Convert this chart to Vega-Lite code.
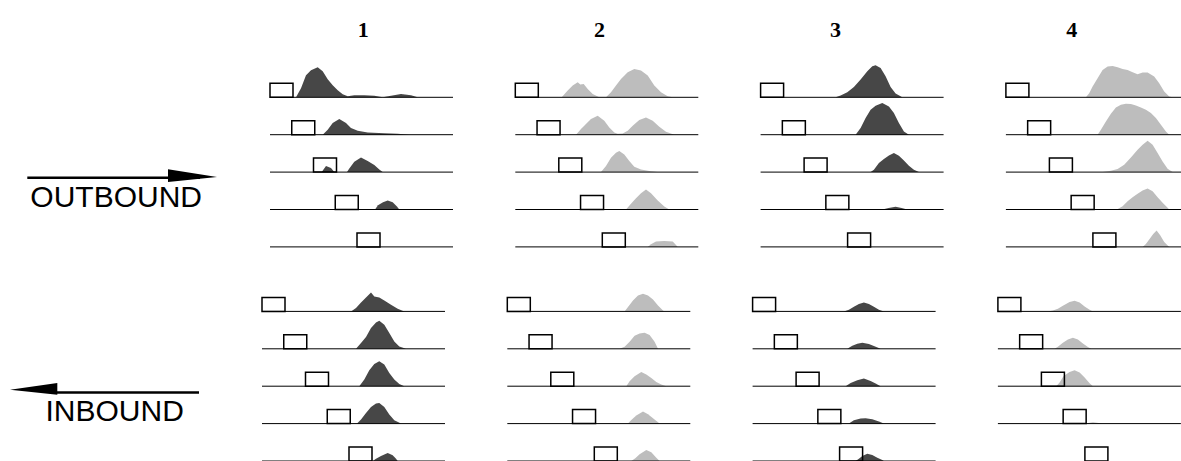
{
"$schema": "https://vega.github.io/schema/vega-lite/v6.json",
"padding": {"top": 18, "left": 0, "right": 0, "bottom": 0},
"background": "white",
"config": {"view": {"stroke": null}},
"datasets": {
"out": [
{"kind":"base","arm":1,"trial":1,"x":0,"x2":183},{"kind":"base","arm":1,"trial":2,"x":0,"x2":183},{"kind":"base","arm":1,"trial":3,"x":0,"x2":183},{"kind":"base","arm":1,"trial":4,"x":0,"x2":183},{"kind":"base","arm":1,"trial":5,"x":0,"x2":183},
{"kind":"base","arm":2,"trial":1,"x":0,"x2":183},{"kind":"base","arm":2,"trial":2,"x":0,"x2":183},{"kind":"base","arm":2,"trial":3,"x":0,"x2":183},{"kind":"base","arm":2,"trial":4,"x":0,"x2":183},{"kind":"base","arm":2,"trial":5,"x":0,"x2":183},
{"kind":"base","arm":3,"trial":1,"x":0,"x2":183},{"kind":"base","arm":3,"trial":2,"x":0,"x2":183},{"kind":"base","arm":3,"trial":3,"x":0,"x2":183},{"kind":"base","arm":3,"trial":4,"x":0,"x2":183},{"kind":"base","arm":3,"trial":5,"x":0,"x2":183},
{"kind":"base","arm":4,"trial":1,"x":0,"x2":183},{"kind":"base","arm":4,"trial":2,"x":0,"x2":183},{"kind":"base","arm":4,"trial":3,"x":0,"x2":183},{"kind":"base","arm":4,"trial":4,"x":0,"x2":183},{"kind":"base","arm":4,"trial":5,"x":0,"x2":183},
{"kind":"box","arm":1,"trial":1,"x":0,"x2":23},{"kind":"box","arm":1,"trial":2,"x":21.75,"x2":44.75},{"kind":"box","arm":1,"trial":3,"x":43.5,"x2":66.5},{"kind":"box","arm":1,"trial":4,"x":65.25,"x2":88.25},{"kind":"box","arm":1,"trial":5,"x":87,"x2":110},
{"kind":"box","arm":2,"trial":1,"x":0,"x2":23},{"kind":"box","arm":2,"trial":2,"x":21.75,"x2":44.75},{"kind":"box","arm":2,"trial":3,"x":43.5,"x2":66.5},{"kind":"box","arm":2,"trial":4,"x":65.25,"x2":88.25},{"kind":"box","arm":2,"trial":5,"x":87,"x2":110},
{"kind":"box","arm":3,"trial":1,"x":0,"x2":23},{"kind":"box","arm":3,"trial":2,"x":21.75,"x2":44.75},{"kind":"box","arm":3,"trial":3,"x":43.5,"x2":66.5},{"kind":"box","arm":3,"trial":4,"x":65.25,"x2":88.25},{"kind":"box","arm":3,"trial":5,"x":87,"x2":110},
{"kind":"box","arm":4,"trial":1,"x":0,"x2":23},{"kind":"box","arm":4,"trial":2,"x":21.75,"x2":44.75},{"kind":"box","arm":4,"trial":3,"x":43.5,"x2":66.5},{"kind":"box","arm":4,"trial":4,"x":65.25,"x2":88.25},{"kind":"box","arm":4,"trial":5,"x":87,"x2":110},
{"kind":"density","arm":1,"trial":1,"x":26,"d":0},{"kind":"density","arm":1,"trial":1,"x":31,"d":9},{"kind":"density","arm":1,"trial":1,"x":36,"d":22},{"kind":"density","arm":1,"trial":1,"x":41,"d":27},{"kind":"density","arm":1,"trial":1,"x":47.7,"d":30},{"kind":"density","arm":1,"trial":1,"x":52.7,"d":26},{"kind":"density","arm":1,"trial":1,"x":57.7,"d":18},{"kind":"density","arm":1,"trial":1,"x":62.7,"d":12},{"kind":"density","arm":1,"trial":1,"x":67.7,"d":7},{"kind":"density","arm":1,"trial":1,"x":72.7,"d":3},{"kind":"density","arm":1,"trial":1,"x":77.7,"d":1},{"kind":"density","arm":1,"trial":1,"x":84.3,"d":2},{"kind":"density","arm":1,"trial":1,"x":94.3,"d":2},{"kind":"density","arm":1,"trial":1,"x":104.3,"d":1.5},{"kind":"density","arm":1,"trial":1,"x":112.7,"d":0},{"kind":"density","arm":1,"trial":1,"x":121,"d":1.5},{"kind":"density","arm":1,"trial":1,"x":131,"d":3.3},{"kind":"density","arm":1,"trial":1,"x":141,"d":2},{"kind":"density","arm":1,"trial":1,"x":147.7,"d":0},
{"kind":"density","arm":1,"trial":2,"x":52.7,"d":0},{"kind":"density","arm":1,"trial":2,"x":57.7,"d":5},{"kind":"density","arm":1,"trial":2,"x":62.7,"d":11.7},{"kind":"density","arm":1,"trial":2,"x":69.3,"d":15.7},{"kind":"density","arm":1,"trial":2,"x":76,"d":11.7},{"kind":"density","arm":1,"trial":2,"x":81,"d":6.7},{"kind":"density","arm":1,"trial":2,"x":87.7,"d":4},{"kind":"density","arm":1,"trial":2,"x":97.7,"d":2.3},{"kind":"density","arm":1,"trial":2,"x":114.3,"d":1.5},{"kind":"density","arm":1,"trial":2,"x":127.7,"d":1},{"kind":"density","arm":1,"trial":2,"x":139.3,"d":0},
{"kind":"density","arm":1,"trial":3,"x":51.7,"d":0},{"kind":"density","arm":1,"trial":3,"x":56,"d":6},{"kind":"density","arm":1,"trial":3,"x":61,"d":4},{"kind":"density","arm":1,"trial":3,"x":64.3,"d":0},{"kind":"density","arm":1,"trial":3,"x":77,"d":0},{"kind":"density","arm":1,"trial":3,"x":79.3,"d":3.7},{"kind":"density","arm":1,"trial":3,"x":84.3,"d":10.3},{"kind":"density","arm":1,"trial":3,"x":91,"d":14.7},{"kind":"density","arm":1,"trial":3,"x":97.7,"d":11},{"kind":"density","arm":1,"trial":3,"x":104.3,"d":7},{"kind":"density","arm":1,"trial":3,"x":109.3,"d":2.7},{"kind":"density","arm":1,"trial":3,"x":112.7,"d":0},
{"kind":"density","arm":1,"trial":4,"x":105,"d":0},{"kind":"density","arm":1,"trial":4,"x":108,"d":4.3},{"kind":"density","arm":1,"trial":4,"x":113,"d":7.3},{"kind":"density","arm":1,"trial":4,"x":117.7,"d":9},{"kind":"density","arm":1,"trial":4,"x":122.7,"d":7.3},{"kind":"density","arm":1,"trial":4,"x":126.7,"d":3.3},{"kind":"density","arm":1,"trial":4,"x":129.3,"d":0},
{"kind":"density","arm":2,"trial":1,"x":46.4,"d":0},{"kind":"density","arm":2,"trial":1,"x":52.4,"d":6.7},{"kind":"density","arm":2,"trial":1,"x":57.4,"d":11.7},{"kind":"density","arm":2,"trial":1,"x":62.4,"d":15},{"kind":"density","arm":2,"trial":1,"x":65,"d":12.7},{"kind":"density","arm":2,"trial":1,"x":68.4,"d":13.3},{"kind":"density","arm":2,"trial":1,"x":72.4,"d":8.3},{"kind":"density","arm":2,"trial":1,"x":77.4,"d":3.3},{"kind":"density","arm":2,"trial":1,"x":84,"d":0},{"kind":"density","arm":2,"trial":1,"x":90.7,"d":0},{"kind":"density","arm":2,"trial":1,"x":95.7,"d":5},{"kind":"density","arm":2,"trial":1,"x":100.7,"d":11.7},{"kind":"density","arm":2,"trial":1,"x":105.7,"d":18.3},{"kind":"density","arm":2,"trial":1,"x":112.4,"d":25},{"kind":"density","arm":2,"trial":1,"x":119,"d":28.3},{"kind":"density","arm":2,"trial":1,"x":125.7,"d":26.7},{"kind":"density","arm":2,"trial":1,"x":132.4,"d":21.7},{"kind":"density","arm":2,"trial":1,"x":139,"d":11.7},{"kind":"density","arm":2,"trial":1,"x":145.7,"d":5},{"kind":"density","arm":2,"trial":1,"x":152.4,"d":1},{"kind":"density","arm":2,"trial":1,"x":157.4,"d":0},
{"kind":"density","arm":2,"trial":2,"x":60.7,"d":0},{"kind":"density","arm":2,"trial":2,"x":65.7,"d":5.7},{"kind":"density","arm":2,"trial":2,"x":70.7,"d":10.7},{"kind":"density","arm":2,"trial":2,"x":75.7,"d":15.7},{"kind":"density","arm":2,"trial":2,"x":82.4,"d":19},{"kind":"density","arm":2,"trial":2,"x":89,"d":14},{"kind":"density","arm":2,"trial":2,"x":94,"d":7.3},{"kind":"density","arm":2,"trial":2,"x":99,"d":2.3},{"kind":"density","arm":2,"trial":2,"x":102.4,"d":1},{"kind":"density","arm":2,"trial":2,"x":107.4,"d":1.3},{"kind":"density","arm":2,"trial":2,"x":112.4,"d":4},{"kind":"density","arm":2,"trial":2,"x":117.4,"d":9},{"kind":"density","arm":2,"trial":2,"x":124,"d":14.7},{"kind":"density","arm":2,"trial":2,"x":130.7,"d":17.3},{"kind":"density","arm":2,"trial":2,"x":137.4,"d":14},{"kind":"density","arm":2,"trial":2,"x":144,"d":8},{"kind":"density","arm":2,"trial":2,"x":150.7,"d":3},{"kind":"density","arm":2,"trial":2,"x":159,"d":0},
{"kind":"density","arm":2,"trial":3,"x":85.7,"d":0},{"kind":"density","arm":2,"trial":3,"x":90.7,"d":6},{"kind":"density","arm":2,"trial":3,"x":95.7,"d":14.3},{"kind":"density","arm":2,"trial":3,"x":100.7,"d":19.3},{"kind":"density","arm":2,"trial":3,"x":104,"d":21},{"kind":"density","arm":2,"trial":3,"x":109,"d":17.7},{"kind":"density","arm":2,"trial":3,"x":114,"d":11},{"kind":"density","arm":2,"trial":3,"x":119,"d":5.3},{"kind":"density","arm":2,"trial":3,"x":125.7,"d":2.7},{"kind":"density","arm":2,"trial":3,"x":134,"d":1},{"kind":"density","arm":2,"trial":3,"x":142.4,"d":0},
{"kind":"density","arm":2,"trial":4,"x":110.7,"d":0},{"kind":"density","arm":2,"trial":4,"x":115.7,"d":5.7},{"kind":"density","arm":2,"trial":4,"x":120.7,"d":11.3},{"kind":"density","arm":2,"trial":4,"x":125.7,"d":16.3},{"kind":"density","arm":2,"trial":4,"x":130.7,"d":20},{"kind":"density","arm":2,"trial":4,"x":135.7,"d":16.3},{"kind":"density","arm":2,"trial":4,"x":142.4,"d":9},{"kind":"density","arm":2,"trial":4,"x":149,"d":3},{"kind":"density","arm":2,"trial":4,"x":154,"d":0},
{"kind":"density","arm":2,"trial":5,"x":132.4,"d":0},{"kind":"density","arm":2,"trial":5,"x":135.7,"d":2.7},{"kind":"density","arm":2,"trial":5,"x":140.7,"d":5.3},{"kind":"density","arm":2,"trial":5,"x":149,"d":6},{"kind":"density","arm":2,"trial":5,"x":157.4,"d":5.3},{"kind":"density","arm":2,"trial":5,"x":160.7,"d":2},{"kind":"density","arm":2,"trial":5,"x":162.4,"d":0},
{"kind":"density","arm":3,"trial":1,"x":75,"d":0},{"kind":"density","arm":3,"trial":1,"x":80,"d":1.7},{"kind":"density","arm":3,"trial":1,"x":86.7,"d":5},{"kind":"density","arm":3,"trial":1,"x":93.3,"d":10.3},{"kind":"density","arm":3,"trial":1,"x":100,"d":17.7},{"kind":"density","arm":3,"trial":1,"x":106.7,"d":26},{"kind":"density","arm":3,"trial":1,"x":111.7,"d":31},{"kind":"density","arm":3,"trial":1,"x":115,"d":32},{"kind":"density","arm":3,"trial":1,"x":120,"d":29.3},{"kind":"density","arm":3,"trial":1,"x":125,"d":21},{"kind":"density","arm":3,"trial":1,"x":130,"d":10.3},{"kind":"density","arm":3,"trial":1,"x":135,"d":3.7},{"kind":"density","arm":3,"trial":1,"x":141.7,"d":0},
{"kind":"density","arm":3,"trial":2,"x":95,"d":0},{"kind":"density","arm":3,"trial":2,"x":100,"d":6.7},{"kind":"density","arm":3,"trial":2,"x":105,"d":16.7},{"kind":"density","arm":3,"trial":2,"x":110,"d":25},{"kind":"density","arm":3,"trial":2,"x":115,"d":29},{"kind":"density","arm":3,"trial":2,"x":121.7,"d":31.7},{"kind":"density","arm":3,"trial":2,"x":128.3,"d":28.3},{"kind":"density","arm":3,"trial":2,"x":133.3,"d":21.7},{"kind":"density","arm":3,"trial":2,"x":138.3,"d":11.7},{"kind":"density","arm":3,"trial":2,"x":143.3,"d":3.3},{"kind":"density","arm":3,"trial":2,"x":148.3,"d":0},
{"kind":"density","arm":3,"trial":3,"x":110,"d":0},{"kind":"density","arm":3,"trial":3,"x":113.3,"d":2.3},{"kind":"density","arm":3,"trial":3,"x":118.3,"d":9},{"kind":"density","arm":3,"trial":3,"x":123.3,"d":13},{"kind":"density","arm":3,"trial":3,"x":128.3,"d":16.7},{"kind":"density","arm":3,"trial":3,"x":133.3,"d":19},{"kind":"density","arm":3,"trial":3,"x":138.3,"d":16.3},{"kind":"density","arm":3,"trial":3,"x":143.3,"d":11.7},{"kind":"density","arm":3,"trial":3,"x":148.3,"d":6.3},{"kind":"density","arm":3,"trial":3,"x":153.3,"d":2.3},{"kind":"density","arm":3,"trial":3,"x":158.3,"d":0},
{"kind":"density","arm":3,"trial":4,"x":121.7,"d":0},{"kind":"density","arm":3,"trial":4,"x":128,"d":1.5},{"kind":"density","arm":3,"trial":4,"x":135,"d":2.7},{"kind":"density","arm":3,"trial":4,"x":141,"d":1.5},{"kind":"density","arm":3,"trial":4,"x":146.7,"d":0},
{"kind":"density","arm":4,"trial":1,"x":80,"d":0},{"kind":"density","arm":4,"trial":1,"x":83.3,"d":4},{"kind":"density","arm":4,"trial":1,"x":86.7,"d":10.7},{"kind":"density","arm":4,"trial":1,"x":91.7,"d":19},{"kind":"density","arm":4,"trial":1,"x":96.7,"d":27.3},{"kind":"density","arm":4,"trial":1,"x":101.7,"d":30.7},{"kind":"density","arm":4,"trial":1,"x":106.7,"d":31.3},{"kind":"density","arm":4,"trial":1,"x":111.7,"d":30},{"kind":"density","arm":4,"trial":1,"x":116.7,"d":28.3},{"kind":"density","arm":4,"trial":1,"x":121.7,"d":27.3},{"kind":"density","arm":4,"trial":1,"x":126.7,"d":25},{"kind":"density","arm":4,"trial":1,"x":131.7,"d":23},{"kind":"density","arm":4,"trial":1,"x":136.7,"d":24.7},{"kind":"density","arm":4,"trial":1,"x":141.7,"d":24.7},{"kind":"density","arm":4,"trial":1,"x":148.3,"d":20.7},{"kind":"density","arm":4,"trial":1,"x":153.3,"d":14},{"kind":"density","arm":4,"trial":1,"x":158.3,"d":5.7},{"kind":"density","arm":4,"trial":1,"x":163.3,"d":0.7},{"kind":"density","arm":4,"trial":1,"x":166.7,"d":0},
{"kind":"density","arm":4,"trial":2,"x":91.7,"d":0},{"kind":"density","arm":4,"trial":2,"x":95,"d":5},{"kind":"density","arm":4,"trial":2,"x":100,"d":13.3},{"kind":"density","arm":4,"trial":2,"x":105,"d":21},{"kind":"density","arm":4,"trial":2,"x":110,"d":27.3},{"kind":"density","arm":4,"trial":2,"x":115,"d":30},{"kind":"density","arm":4,"trial":2,"x":120,"d":31},{"kind":"density","arm":4,"trial":2,"x":125,"d":30.7},{"kind":"density","arm":4,"trial":2,"x":130,"d":29.3},{"kind":"density","arm":4,"trial":2,"x":135,"d":27.3},{"kind":"density","arm":4,"trial":2,"x":140,"d":25},{"kind":"density","arm":4,"trial":2,"x":145,"d":21.7},{"kind":"density","arm":4,"trial":2,"x":150,"d":16.7},{"kind":"density","arm":4,"trial":2,"x":155,"d":10},{"kind":"density","arm":4,"trial":2,"x":160,"d":3.3},{"kind":"density","arm":4,"trial":2,"x":163.3,"d":0},
{"kind":"density","arm":4,"trial":3,"x":96.7,"d":0},{"kind":"density","arm":4,"trial":3,"x":105,"d":1.3},{"kind":"density","arm":4,"trial":3,"x":111.7,"d":3},{"kind":"density","arm":4,"trial":3,"x":118.3,"d":7.3},{"kind":"density","arm":4,"trial":3,"x":125,"d":14.7},{"kind":"density","arm":4,"trial":3,"x":131.7,"d":22.3},{"kind":"density","arm":4,"trial":3,"x":136.7,"d":27.3},{"kind":"density","arm":4,"trial":3,"x":141.7,"d":31.3},{"kind":"density","arm":4,"trial":3,"x":146.7,"d":27.3},{"kind":"density","arm":4,"trial":3,"x":151.7,"d":19},{"kind":"density","arm":4,"trial":3,"x":156.7,"d":10.7},{"kind":"density","arm":4,"trial":3,"x":161.7,"d":3.3},{"kind":"density","arm":4,"trial":3,"x":166.7,"d":0},
{"kind":"density","arm":4,"trial":4,"x":111,"d":0},{"kind":"density","arm":4,"trial":4,"x":116.7,"d":3.3},{"kind":"density","arm":4,"trial":4,"x":121.7,"d":8.3},{"kind":"density","arm":4,"trial":4,"x":126.7,"d":12.3},{"kind":"density","arm":4,"trial":4,"x":131.7,"d":15.7},{"kind":"density","arm":4,"trial":4,"x":136.7,"d":19},{"kind":"density","arm":4,"trial":4,"x":141.7,"d":21},{"kind":"density","arm":4,"trial":4,"x":146.7,"d":18.3},{"kind":"density","arm":4,"trial":4,"x":151.7,"d":12.3},{"kind":"density","arm":4,"trial":4,"x":156.7,"d":6.7},{"kind":"density","arm":4,"trial":4,"x":161.7,"d":1.7},{"kind":"density","arm":4,"trial":4,"x":163.3,"d":0},
{"kind":"density","arm":4,"trial":5,"x":136.7,"d":0},{"kind":"density","arm":4,"trial":5,"x":140,"d":3},{"kind":"density","arm":4,"trial":5,"x":143.3,"d":7.3},{"kind":"density","arm":4,"trial":5,"x":147.3,"d":13},{"kind":"density","arm":4,"trial":5,"x":150.7,"d":16.3},{"kind":"density","arm":4,"trial":5,"x":154.3,"d":11.7},{"kind":"density","arm":4,"trial":5,"x":158.3,"d":5},{"kind":"density","arm":4,"trial":5,"x":163.3,"d":0}
],
"in": [
{"kind":"base","arm":1,"trial":1,"x":0,"x2":183},{"kind":"base","arm":1,"trial":2,"x":0,"x2":183},{"kind":"base","arm":1,"trial":3,"x":0,"x2":183},{"kind":"base","arm":1,"trial":4,"x":0,"x2":183},{"kind":"base","arm":1,"trial":5,"x":0,"x2":183},
{"kind":"base","arm":2,"trial":1,"x":0,"x2":183},{"kind":"base","arm":2,"trial":2,"x":0,"x2":183},{"kind":"base","arm":2,"trial":3,"x":0,"x2":183},{"kind":"base","arm":2,"trial":4,"x":0,"x2":183},{"kind":"base","arm":2,"trial":5,"x":0,"x2":183},
{"kind":"base","arm":3,"trial":1,"x":0,"x2":183},{"kind":"base","arm":3,"trial":2,"x":0,"x2":183},{"kind":"base","arm":3,"trial":3,"x":0,"x2":183},{"kind":"base","arm":3,"trial":4,"x":0,"x2":183},{"kind":"base","arm":3,"trial":5,"x":0,"x2":183},
{"kind":"base","arm":4,"trial":1,"x":0,"x2":183},{"kind":"base","arm":4,"trial":2,"x":0,"x2":183},{"kind":"base","arm":4,"trial":3,"x":0,"x2":183},{"kind":"base","arm":4,"trial":4,"x":0,"x2":183},
{"kind":"box","arm":1,"trial":1,"x":0,"x2":23},{"kind":"box","arm":1,"trial":2,"x":21.75,"x2":44.75},{"kind":"box","arm":1,"trial":3,"x":43.5,"x2":66.5},{"kind":"box","arm":1,"trial":4,"x":65.25,"x2":88.25},{"kind":"box","arm":1,"trial":5,"x":87,"x2":110},
{"kind":"box","arm":2,"trial":1,"x":0,"x2":23},{"kind":"box","arm":2,"trial":2,"x":21.75,"x2":44.75},{"kind":"box","arm":2,"trial":3,"x":43.5,"x2":66.5},{"kind":"box","arm":2,"trial":4,"x":65.25,"x2":88.25},{"kind":"box","arm":2,"trial":5,"x":87,"x2":110},
{"kind":"box","arm":3,"trial":1,"x":0,"x2":23},{"kind":"box","arm":3,"trial":2,"x":21.75,"x2":44.75},{"kind":"box","arm":3,"trial":3,"x":43.5,"x2":66.5},{"kind":"box","arm":3,"trial":4,"x":65.25,"x2":88.25},{"kind":"box","arm":3,"trial":5,"x":87,"x2":110},
{"kind":"box","arm":4,"trial":1,"x":0,"x2":23},{"kind":"box","arm":4,"trial":2,"x":21.75,"x2":44.75},{"kind":"box","arm":4,"trial":3,"x":43.5,"x2":66.5},{"kind":"box","arm":4,"trial":4,"x":65.25,"x2":88.25},{"kind":"box","arm":4,"trial":5,"x":87,"x2":110},
{"kind":"density","arm":1,"trial":1,"x":89,"d":0},{"kind":"density","arm":1,"trial":1,"x":94,"d":3.3},{"kind":"density","arm":1,"trial":1,"x":99,"d":9},{"kind":"density","arm":1,"trial":1,"x":104,"d":14},{"kind":"density","arm":1,"trial":1,"x":109,"d":19},{"kind":"density","arm":1,"trial":1,"x":112.3,"d":15},{"kind":"density","arm":1,"trial":1,"x":117.3,"d":14},{"kind":"density","arm":1,"trial":1,"x":122.3,"d":11},{"kind":"density","arm":1,"trial":1,"x":129,"d":6.7},{"kind":"density","arm":1,"trial":1,"x":135.7,"d":2.7},{"kind":"density","arm":1,"trial":1,"x":142.3,"d":0},
{"kind":"density","arm":1,"trial":2,"x":94,"d":0},{"kind":"density","arm":1,"trial":2,"x":99,"d":5.7},{"kind":"density","arm":1,"trial":2,"x":104,"d":11.7},{"kind":"density","arm":1,"trial":2,"x":109,"d":20.7},{"kind":"density","arm":1,"trial":2,"x":114,"d":26.3},{"kind":"density","arm":1,"trial":2,"x":117.3,"d":28},{"kind":"density","arm":1,"trial":2,"x":122.3,"d":24},{"kind":"density","arm":1,"trial":2,"x":127.3,"d":15.7},{"kind":"density","arm":1,"trial":2,"x":132.3,"d":7.3},{"kind":"density","arm":1,"trial":2,"x":137.3,"d":2.3},{"kind":"density","arm":1,"trial":2,"x":144,"d":0},
{"kind":"density","arm":1,"trial":3,"x":97.3,"d":0},{"kind":"density","arm":1,"trial":3,"x":102.3,"d":6.7},{"kind":"density","arm":1,"trial":3,"x":107.3,"d":16},{"kind":"density","arm":1,"trial":3,"x":112.3,"d":22.3},{"kind":"density","arm":1,"trial":3,"x":117.3,"d":25},{"kind":"density","arm":1,"trial":3,"x":122.3,"d":21.7},{"kind":"density","arm":1,"trial":3,"x":127.3,"d":13.3},{"kind":"density","arm":1,"trial":3,"x":132.3,"d":6.7},{"kind":"density","arm":1,"trial":3,"x":137.3,"d":2.3},{"kind":"density","arm":1,"trial":3,"x":142.3,"d":0},
{"kind":"density","arm":1,"trial":4,"x":95,"d":0},{"kind":"density","arm":1,"trial":4,"x":99,"d":4},{"kind":"density","arm":1,"trial":4,"x":104,"d":10.7},{"kind":"density","arm":1,"trial":4,"x":109,"d":16.7},{"kind":"density","arm":1,"trial":4,"x":114,"d":20},{"kind":"density","arm":1,"trial":4,"x":117.3,"d":20.7},{"kind":"density","arm":1,"trial":4,"x":122.3,"d":16.7},{"kind":"density","arm":1,"trial":4,"x":127.3,"d":9},{"kind":"density","arm":1,"trial":4,"x":132.3,"d":3.3},{"kind":"density","arm":1,"trial":4,"x":139,"d":0},
{"kind":"density","arm":1,"trial":5,"x":110.7,"d":0},{"kind":"density","arm":1,"trial":5,"x":114,"d":2.3},{"kind":"density","arm":1,"trial":5,"x":119,"d":5},{"kind":"density","arm":1,"trial":5,"x":125.7,"d":8},{"kind":"density","arm":1,"trial":5,"x":130.7,"d":5.7},{"kind":"density","arm":1,"trial":5,"x":134,"d":2.3},{"kind":"density","arm":1,"trial":5,"x":135.7,"d":0},
{"kind":"density","arm":2,"trial":1,"x":117.3,"d":0},{"kind":"density","arm":2,"trial":1,"x":120.7,"d":4.3},{"kind":"density","arm":2,"trial":1,"x":125.7,"d":11},{"kind":"density","arm":2,"trial":1,"x":130.7,"d":16},{"kind":"density","arm":2,"trial":1,"x":135.7,"d":17.7},{"kind":"density","arm":2,"trial":1,"x":140.7,"d":16},{"kind":"density","arm":2,"trial":1,"x":145.7,"d":12},{"kind":"density","arm":2,"trial":1,"x":150.7,"d":6},{"kind":"density","arm":2,"trial":1,"x":155.7,"d":1},{"kind":"density","arm":2,"trial":1,"x":157.3,"d":0},
{"kind":"density","arm":2,"trial":2,"x":112.3,"d":0},{"kind":"density","arm":2,"trial":2,"x":117.3,"d":2},{"kind":"density","arm":2,"trial":2,"x":122.3,"d":7},{"kind":"density","arm":2,"trial":2,"x":127.3,"d":13},{"kind":"density","arm":2,"trial":2,"x":132.3,"d":15.3},{"kind":"density","arm":2,"trial":2,"x":137.3,"d":16},{"kind":"density","arm":2,"trial":2,"x":142.3,"d":13.7},{"kind":"density","arm":2,"trial":2,"x":147.3,"d":7},{"kind":"density","arm":2,"trial":2,"x":150.7,"d":0},
{"kind":"density","arm":2,"trial":3,"x":119,"d":0},{"kind":"density","arm":2,"trial":3,"x":122.3,"d":5},{"kind":"density","arm":2,"trial":3,"x":127.3,"d":10},{"kind":"density","arm":2,"trial":3,"x":134,"d":14.3},{"kind":"density","arm":2,"trial":3,"x":139,"d":11.7},{"kind":"density","arm":2,"trial":3,"x":144,"d":8.3},{"kind":"density","arm":2,"trial":3,"x":149,"d":4.3},{"kind":"density","arm":2,"trial":3,"x":154,"d":1.7},{"kind":"density","arm":2,"trial":3,"x":159,"d":0},
{"kind":"density","arm":2,"trial":4,"x":120.7,"d":0},{"kind":"density","arm":2,"trial":4,"x":124,"d":3.7},{"kind":"density","arm":2,"trial":4,"x":129,"d":8},{"kind":"density","arm":2,"trial":4,"x":135.7,"d":12},{"kind":"density","arm":2,"trial":4,"x":140.7,"d":9.3},{"kind":"density","arm":2,"trial":4,"x":145.7,"d":5.3},{"kind":"density","arm":2,"trial":4,"x":150.7,"d":1.3},{"kind":"density","arm":2,"trial":4,"x":152.3,"d":0},
{"kind":"density","arm":2,"trial":5,"x":124,"d":0},{"kind":"density","arm":2,"trial":5,"x":128,"d":2.7},{"kind":"density","arm":2,"trial":5,"x":132.3,"d":6.7},{"kind":"density","arm":2,"trial":5,"x":139,"d":11},{"kind":"density","arm":2,"trial":5,"x":144,"d":8.7},{"kind":"density","arm":2,"trial":5,"x":149,"d":3.3},{"kind":"density","arm":2,"trial":5,"x":152.3,"d":0},
{"kind":"density","arm":3,"trial":1,"x":91.3,"d":0},{"kind":"density","arm":3,"trial":1,"x":96.3,"d":1.7},{"kind":"density","arm":3,"trial":1,"x":101.3,"d":4.7},{"kind":"density","arm":3,"trial":1,"x":106.3,"d":7.3},{"kind":"density","arm":3,"trial":1,"x":111.3,"d":9},{"kind":"density","arm":3,"trial":1,"x":116.3,"d":7.3},{"kind":"density","arm":3,"trial":1,"x":121.3,"d":4.7},{"kind":"density","arm":3,"trial":1,"x":126.3,"d":1.7},{"kind":"density","arm":3,"trial":1,"x":131.3,"d":0},
{"kind":"density","arm":3,"trial":2,"x":94.7,"d":0},{"kind":"density","arm":3,"trial":2,"x":99.7,"d":3},{"kind":"density","arm":3,"trial":2,"x":104.7,"d":5},{"kind":"density","arm":3,"trial":2,"x":109.7,"d":6},{"kind":"density","arm":3,"trial":2,"x":116.3,"d":4.7},{"kind":"density","arm":3,"trial":2,"x":121.3,"d":2.7},{"kind":"density","arm":3,"trial":2,"x":128,"d":0},
{"kind":"density","arm":3,"trial":3,"x":93,"d":0},{"kind":"density","arm":3,"trial":3,"x":98,"d":3.3},{"kind":"density","arm":3,"trial":3,"x":104.7,"d":6},{"kind":"density","arm":3,"trial":3,"x":111.3,"d":7.7},{"kind":"density","arm":3,"trial":3,"x":118,"d":5.3},{"kind":"density","arm":3,"trial":3,"x":123,"d":2.7},{"kind":"density","arm":3,"trial":3,"x":128,"d":0},
{"kind":"density","arm":3,"trial":4,"x":96.3,"d":0},{"kind":"density","arm":3,"trial":4,"x":101.3,"d":3.3},{"kind":"density","arm":3,"trial":4,"x":108,"d":5},{"kind":"density","arm":3,"trial":4,"x":113,"d":5.3},{"kind":"density","arm":3,"trial":4,"x":119.7,"d":4.3},{"kind":"density","arm":3,"trial":4,"x":126.3,"d":2},{"kind":"density","arm":3,"trial":4,"x":131.3,"d":0},
{"kind":"density","arm":3,"trial":5,"x":103,"d":0},{"kind":"density","arm":3,"trial":5,"x":106.3,"d":2.3},{"kind":"density","arm":3,"trial":5,"x":109.7,"d":5},{"kind":"density","arm":3,"trial":5,"x":114.7,"d":7.3},{"kind":"density","arm":3,"trial":5,"x":119.7,"d":6},{"kind":"density","arm":3,"trial":5,"x":124.7,"d":3.3},{"kind":"density","arm":3,"trial":5,"x":129.7,"d":1},{"kind":"density","arm":3,"trial":5,"x":131.3,"d":0},
{"kind":"density","arm":4,"trial":1,"x":50,"d":0},{"kind":"density","arm":4,"trial":1,"x":55,"d":1},{"kind":"density","arm":4,"trial":1,"x":60,"d":2.7},{"kind":"density","arm":4,"trial":1,"x":65,"d":5.7},{"kind":"density","arm":4,"trial":1,"x":71.7,"d":9.3},{"kind":"density","arm":4,"trial":1,"x":76.7,"d":10.7},{"kind":"density","arm":4,"trial":1,"x":81.7,"d":9},{"kind":"density","arm":4,"trial":1,"x":86.7,"d":5},{"kind":"density","arm":4,"trial":1,"x":91.7,"d":1.7},{"kind":"density","arm":4,"trial":1,"x":95,"d":0},
{"kind":"density","arm":4,"trial":2,"x":56.7,"d":0},{"kind":"density","arm":4,"trial":2,"x":60,"d":2},{"kind":"density","arm":4,"trial":2,"x":65,"d":6},{"kind":"density","arm":4,"trial":2,"x":70,"d":9.3},{"kind":"density","arm":4,"trial":2,"x":75,"d":11},{"kind":"density","arm":4,"trial":2,"x":80,"d":9.3},{"kind":"density","arm":4,"trial":2,"x":85,"d":5.3},{"kind":"density","arm":4,"trial":2,"x":90,"d":1.7},{"kind":"density","arm":4,"trial":2,"x":93.3,"d":0},
{"kind":"density","arm":4,"trial":3,"x":58.3,"d":0},{"kind":"density","arm":4,"trial":3,"x":61.7,"d":3.7},{"kind":"density","arm":4,"trial":3,"x":65.7,"d":10.3},{"kind":"density","arm":4,"trial":3,"x":71.7,"d":14.3},{"kind":"density","arm":4,"trial":3,"x":76.7,"d":16},{"kind":"density","arm":4,"trial":3,"x":81.7,"d":13.7},{"kind":"density","arm":4,"trial":3,"x":86.7,"d":8.7},{"kind":"density","arm":4,"trial":3,"x":91.7,"d":3},{"kind":"density","arm":4,"trial":3,"x":95,"d":0},
{"kind":"density","arm":4,"trial":4,"x":86.7,"d":0},{"kind":"density","arm":4,"trial":4,"x":95,"d":1.3},{"kind":"density","arm":4,"trial":4,"x":105,"d":0}
]
},
"spacing": 20.3,
"vconcat": [
{
"width": 1181, "height": 23,
"data": {"values": [{"arm":1,"label":"1"},{"arm":2,"label":"2"},{"arm":3,"label":"3"},{"arm":4,"label":"4"}]},
"mark": {"type": "text", "font": "Liberation Serif", "fontWeight": "bold", "fontSize": 22, "baseline": "middle", "align": "center", "color": "black"},
"encoding": {
"x": {"field": "arm", "type": "quantitative", "scale": {"domain": [-0.539, 4.463], "nice": false}, "axis": null},
"text": {"field": "label"}
}
},
{
"spacing": 27.1,
"vconcat": [
{
"spacing": 49,
"hconcat": [
{
"width": 220, "height": 185.6,
"layer": [
{"data": {"values": [{"x": 27.3, "x2": 200, "y": 116.4}]},
 "mark": {"type": "rule", "color": "black", "strokeWidth": 2.5},
 "encoding": {"x": {"field": "x", "type": "quantitative", "scale": {"domain": [0, 220], "nice": false}, "axis": null}, "x2": {"field": "x2"}, "y": {"field": "y", "type": "quantitative", "scale": {"domain": [0, 185.6], "nice": false, "reverse": true}, "axis": null}}},
{"data": {"values": [{"x": 168, "y": 108, "y2": 120.7}, {"x": 217, "y": 115.7, "y2": 115.7}]},
 "mark": {"type": "area", "color": "black"},
 "encoding": {"x": {"field": "x", "type": "quantitative"}, "y": {"field": "y", "type": "quantitative"}, "y2": {"field": "y2"}}},
{"data": {"values": [{"x": 30.3, "y": 145.4, "label": "OUTBOUND"}]},
 "mark": {"type": "text", "font": "Liberation Sans", "fontSize": 30, "align": "left", "baseline": "alphabetic", "color": "black"},
 "encoding": {"x": {"field": "x", "type": "quantitative"}, "y": {"field": "y", "type": "quantitative"}, "text": {"field": "label"}}}
]
},
{
"data": {"name": "out"},
"bounds": "flush",
"facet": {
"row": {"field": "trial", "type": "ordinal", "header": {"labels": false, "title": null}},
"column": {"field": "arm", "type": "ordinal", "header": {"labels": false, "title": null}}
},
"spacing": {"row": 1.4, "column": 62.3},
"spec": {
"width": 183, "height": 36,
"layer": [
{"transform": [{"filter": "datum.kind == 'density'"}],
 "mark": {"type": "area", "interpolate": "linear"},
 "encoding": {
  "x": {"field": "x", "type": "quantitative", "scale": {"domain": [0, 183], "nice": false}, "axis": null},
  "y": {"field": "d", "type": "quantitative", "scale": {"domain": [0, 36], "nice": false}, "axis": null},
  "color": {"field": "arm", "type": "nominal", "scale": {"domain": [1, 2, 3, 4], "range": ["#474747", "#bdbdbd", "#474747", "#bdbdbd"]}, "legend": null}
 }},
{"transform": [{"filter": "datum.kind == 'base'"}],
 "mark": {"type": "rule", "color": "black", "strokeWidth": 1},
 "encoding": {"x": {"field": "x", "type": "quantitative"}, "x2": {"field": "x2"}, "y": {"datum": 0}}},
{"transform": [{"filter": "datum.kind == 'box'"}],
 "mark": {"type": "rect", "fill": "white", "fillOpacity": 0, "stroke": "black", "strokeWidth": 1.5},
 "encoding": {"x": {"field": "x", "type": "quantitative"}, "x2": {"field": "x2"}, "y": {"datum": 0}, "y2": {"datum": 14}}}
]
}
}
]
},
{
"spacing": 49,
"hconcat": [
{
"width": 212, "height": 185.6,
"layer": [
{"data": {"values": [{"x": 50, "x2": 199, "y": 117}]},
 "mark": {"type": "rule", "color": "black", "strokeWidth": 2.5},
 "encoding": {"x": {"field": "x", "type": "quantitative", "scale": {"domain": [0, 212], "nice": false}, "axis": null}, "x2": {"field": "x2"}, "y": {"field": "y", "type": "quantitative", "scale": {"domain": [0, 185.6], "nice": false, "reverse": true}, "axis": null}}},
{"data": {"values": [{"x": 10, "y": 114.3, "y2": 114.3}, {"x": 57.3, "y": 107.7, "y2": 119.3}]},
 "mark": {"type": "area", "color": "black"},
 "encoding": {"x": {"field": "x", "type": "quantitative"}, "y": {"field": "y", "type": "quantitative"}, "y2": {"field": "y2"}}},
{"data": {"values": [{"x": 45.5, "y": 145.3, "label": "INBOUND"}]},
 "mark": {"type": "text", "font": "Liberation Sans", "fontSize": 30, "align": "left", "baseline": "alphabetic", "color": "black"},
 "encoding": {"x": {"field": "x", "type": "quantitative"}, "y": {"field": "y", "type": "quantitative"}, "text": {"field": "label"}}}
]
},
{
"data": {"name": "in"},
"bounds": "flush",
"facet": {
"row": {"field": "trial", "type": "ordinal", "header": {"labels": false, "title": null}},
"column": {"field": "arm", "type": "ordinal", "header": {"labels": false, "title": null}}
},
"spacing": {"row": 1.4, "column": 62.3},
"spec": {
"width": 183, "height": 36,
"layer": [
{"transform": [{"filter": "datum.kind == 'density'"}],
 "mark": {"type": "area", "interpolate": "linear"},
 "encoding": {
  "x": {"field": "x", "type": "quantitative", "scale": {"domain": [0, 183], "nice": false}, "axis": null},
  "y": {"field": "d", "type": "quantitative", "scale": {"domain": [0, 36], "nice": false}, "axis": null},
  "color": {"field": "arm", "type": "nominal", "scale": {"domain": [1, 2, 3, 4], "range": ["#474747", "#bdbdbd", "#474747", "#bdbdbd"]}, "legend": null}
 }},
{"transform": [{"filter": "datum.kind == 'base'"}],
 "mark": {"type": "rule", "color": "black", "strokeWidth": 1},
 "encoding": {"x": {"field": "x", "type": "quantitative"}, "x2": {"field": "x2"}, "y": {"datum": 0}}},
{"transform": [{"filter": "datum.kind == 'box'"}],
 "mark": {"type": "rect", "fill": "white", "fillOpacity": 0, "stroke": "black", "strokeWidth": 1.5},
 "encoding": {"x": {"field": "x", "type": "quantitative"}, "x2": {"field": "x2"}, "y": {"datum": 0}, "y2": {"datum": 14}}}
]
}
}
]
}
]
}
]
}
